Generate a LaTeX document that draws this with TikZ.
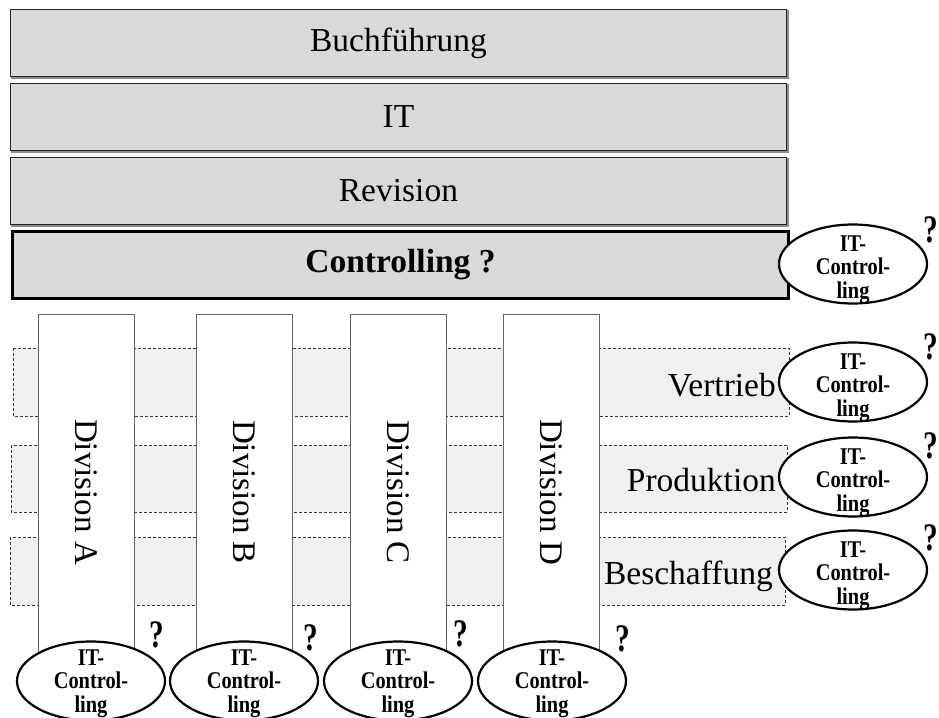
\documentclass[tikz,border=0pt]{standalone}
\usepackage{fontspec}
\setmainfont{Liberation Serif}
\usetikzlibrary{shapes.geometric}
\begin{document}
\begin{tikzpicture}[x=1pt,y=-1pt,
  layerbox/.style={draw=black!85, line width=0.9pt, fill=black!15, anchor=north west,
    minimum width=776pt, minimum height=67pt, inner sep=0pt,
    font=\fontsize{33.5}{40}\selectfont},
  shadowline/.style={draw=black!45, line width=1.4pt},
  ctrlbox/.style={layerbox, draw=black, line width=3pt, font=\fontsize{33.5}{40}\selectfont\bfseries},
  band/.style={draw=black!80, fill=black!6, line width=0.7pt, dash pattern=on 3pt off 2pt},
  divcol/.style={draw=black!60, fill=white, line width=0.9pt, rotate=-90,
    minimum width=356pt, minimum height=96pt, inner sep=0pt,
    font=\fontsize{33}{40}\selectfont},
  areatext/.style={anchor=base east, inner sep=0pt, font=\fontsize{33.5}{40}\selectfont},
  itcshape/.style={draw=black, line width=2.2pt, fill=white, ellipse,
    minimum width=148pt, minimum height=79pt, inner sep=0pt},
  itctext/.style={align=center, inner sep=0pt, xscale=0.85,
    font=\fontsize{24}{23.5}\selectfont\bfseries},
  qmark/.style={inner sep=0pt, xscale=0.75, font=\fontsize{39}{40}\selectfont\bfseries}
]
\useasboundingbox (0,0) rectangle (939,717);

% stacked departments
\node[layerbox] (buch) at (10,9) {Buchführung};
\node[layerbox] (it) at (10,83) {IT};
\node[layerbox] (rev) at (10,157) {Revision};
\foreach \n in {buch,it,rev}{
  \draw[shadowline] ([xshift=1pt,yshift=-1pt]\n.south west) -- ([xshift=1pt,yshift=-1pt]\n.south east)
    -- ([xshift=1pt,yshift=-1pt]\n.north east);
}
\node[ctrlbox] (ctrl) at (11,230) {Controlling ?};

% functional areas (dashed bands)
\draw[band] (13,348) rectangle (789,416);
\draw[band] (11,445) rectangle (787,512);
\draw[band] (10,537) rectangle (785,605);
\node[areatext] (vertrieb) at (776,396) {Vertrieb};
\node[areatext] (produktion) at (776,491) {Produktion};
\node[areatext] (beschaffung) at (773,584) {Beschaffung};

% divisions
\node[divcol] (divA) at (86,492) {Division A};
\node[divcol] (divB) at (244,492) {Division B};
\node[divcol] (divC) at (398,492) {Division C};
\node[divcol] (divD) at (551,492) {Division D};

% IT-Controlling ellipses on the right
\foreach \nm/\y/\qy in {c/264/230, v/382/347, p/477/446, b/570/538}{
  \node[itcshape] (itc\nm) at (853,\y) {};
  \node[itctext] (itc\nm t) at ([yshift=-5.5pt]itc\nm.center) {IT-\\Control-\\ling};
  \node[qmark] (q\nm) at (931,\qy) {?};
}

% IT-Controlling ellipses below the divisions
\foreach \nm/\x/\qx/\qy in {A/91/157/635, B/244/311/638, C/398/461/634, D/552/623/639}{
  \node[itcshape] (itc\nm) at (\x,681) {};
  \node[itctext] (itc\nm t) at ([yshift=-2.5pt]itc\nm.center) {IT-\\Control-\\ling};
  \node[qmark] (q\nm) at (\qx,\qy) {?};
}
\end{tikzpicture}
\end{document}
